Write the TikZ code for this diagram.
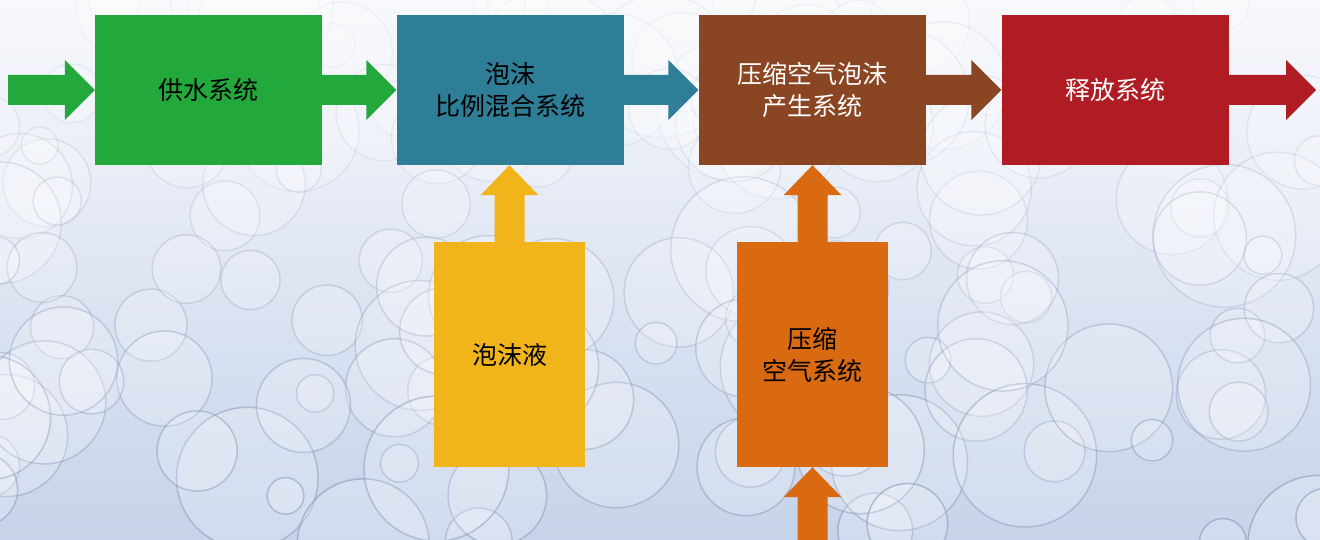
\documentclass[tikz,border=0pt]{standalone}
\usepackage{fontspec}
\newfontfamily\cjk{Noto Sans CJK SC}
\usetikzlibrary{calc}
\definecolor{cgreen}{HTML}{23A93B}
\definecolor{cteal}{HTML}{2D7E96}
\definecolor{cbrown}{HTML}{8A4523}
\definecolor{cred}{HTML}{AF1C23}
\definecolor{cyellow}{HTML}{F1B51B}
\definecolor{corange}{HTML}{DA6A11}
\definecolor{bgtop}{HTML}{F8F9FC}
\definecolor{bgbot}{HTML}{C6D3EA}
\definecolor{bubline}{HTML}{8E9DBD}
\newcommand\harrowfill[3]{%
  \fill[#1] let \p1=(#2), \p2=(#3) in
    (\x1,\y1+15pt) -- (\x2-30pt,\y1+15pt) -- (\x2-30pt,\y1+30pt) -- (\x2,\y1)
    -- (\x2-30pt,\y1-30pt) -- (\x2-30pt,\y1-15pt) -- (\x1,\y1-15pt) -- cycle;}
\newcommand\varrowfill[3]{%
  \fill[#1] let \p1=(#2), \p2=(#3) in
    (\x1-15pt,\y1) -- (\x1-15pt,\y2-30pt) -- (\x1-29pt,\y2-30pt) -- (\x1,\y2)
    -- (\x1+29pt,\y2-30pt) -- (\x1+15pt,\y2-30pt) -- (\x1+15pt,\y1) -- cycle;}
\tikzset{
  sysbox/.style={minimum width=227pt, minimum height=150pt, inner sep=0pt,
    align=center, font=\cjk\fontsize{25}{32}\selectfont},
  srcbox/.style={minimum width=151pt, minimum height=225pt, inner sep=0pt,
    align=center, font=\cjk\fontsize{25}{32}\selectfont}
}
\begin{document}
\begin{tikzpicture}[x=1pt,y=-1pt]
\useasboundingbox (0,0) rectangle (1320,540);
% background
\shade[top color=bgtop, bottom color=bgbot] (0,0) rectangle (1320,540);
\begin{scope}
\clip (0,0) rectangle (1320,540);
\pgfmathsetseed{11}
\foreach \i in {1,...,140}{
  \pgfmathsetmacro\bx{rnd*1360-20}
  \pgfmathsetmacro\by{rnd*560}
  \pgfmathsetmacro\br{18+rnd*55}
  \pgfmathsetmacro\op{0.06+0.6*(\by/560)^1.3}
  \draw[draw=bubline, draw opacity=\op, line width=1.5pt, fill=white, fill opacity=0.2]
    (\bx,\by) circle[radius=\br];
}
\end{scope}
% nodes
\node[sysbox, fill=cgreen, text=black] (g) at (208.5,90) {供水系统};
\node[sysbox, fill=cteal, text=black] (t) at (510,90) {泡沫\\比例混合系统};
\node[sysbox, fill=cbrown, text=white] (b) at (812,90) {压缩空气泡沫\\产生系统};
\node[sysbox, fill=cred, text=white] (r) at (1115,90) {释放系统};
\node[srcbox, fill=cyellow, text=black] (y) at (509.5,354.5) {泡沫液};
\node[srcbox, fill=corange, text=black] (o) at (812.5,354.5) {压缩\\空气系统};
\coordinate (inL) at (8,90);
\coordinate (outR) at (1316,90);
\coordinate (inB) at (812.5,545);
% connectors
\harrowfill{cgreen}{inL}{g.west}
\harrowfill{cgreen}{g.east}{t.west}
\harrowfill{cteal}{t.east}{b.west}
\harrowfill{cbrown}{b.east}{r.west}
\harrowfill{cred}{r.east}{outR}
\varrowfill{cyellow}{y.north}{t.south}
\varrowfill{corange}{o.north}{b.south}
\varrowfill{corange}{inB}{o.south}
\end{tikzpicture}
\end{document}
